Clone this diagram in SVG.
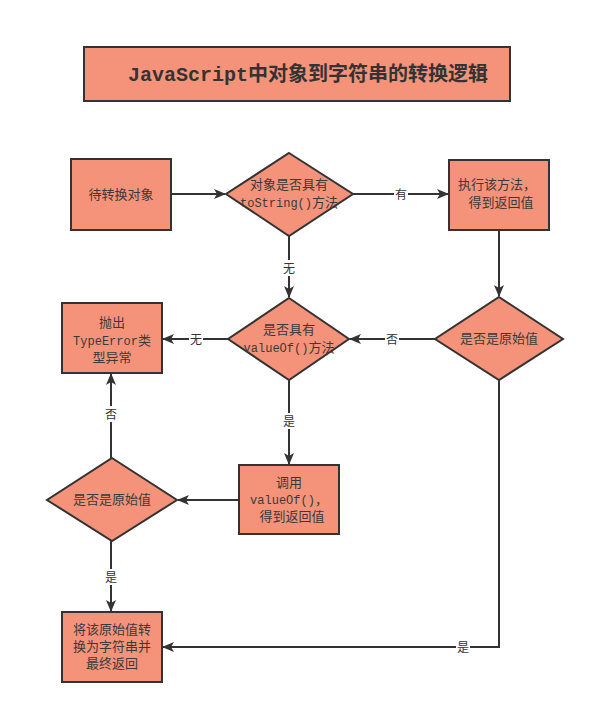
<svg xmlns="http://www.w3.org/2000/svg" width="595" height="714" viewBox="0 0 595 714">
<style>
.n{fill:#F4937A;stroke:#333;stroke-width:2}
.t{font-family:"Liberation Serif","Noto Sans CJK SC",serif;font-size:13px;fill:#3a3a3a;text-anchor:middle}
.m{font-family:"Liberation Mono","Noto Sans CJK SC",monospace;font-size:12px}
.c{stroke:#333;stroke-width:2;fill:none}
.l{font-family:"Liberation Serif","Noto Sans CJK SC",serif;font-size:12px;fill:#333;text-anchor:middle}
.lb{fill:#fff}
</style>
<defs>
<marker id="a" markerWidth="12" markerHeight="10" refX="11" refY="5" orient="auto" markerUnits="userSpaceOnUse">
<path d="M0,0 L12,5 L0,10 L3,5 Z" fill="#333"/>
</marker>
</defs>
<rect width="595" height="714" fill="#fff"/>
<g id="title">
<rect class="n" x="84" y="47" width="426" height="54"/>
<text x="308" y="81" font-family="'Liberation Mono','Noto Sans CJK SC',monospace" font-size="20" font-weight="bold" fill="#333" text-anchor="middle">JavaScript中对象到字符串的转换逻辑</text>
</g>
<g id="connectors">
<path class="c" d="M171,194 L225,194" marker-end="url(#a)"/>
<path class="c" d="M353,194 L448,194" marker-end="url(#a)"/>
<rect class="lb" x="394" y="186" width="14" height="16"/>
<text class="l" x="401" y="199">有</text>
<path class="c" d="M499,230 L499,296" marker-end="url(#a)"/>
<path class="c" d="M435,339 L350,339" marker-end="url(#a)"/>
<rect class="lb" x="385" y="331" width="14" height="16"/>
<text class="l" x="392" y="344">否</text>
<path class="c" d="M289,236 L289,297" marker-end="url(#a)"/>
<rect class="lb" x="282" y="260" width="14" height="16"/>
<text class="l" x="289" y="273">无</text>
<path class="c" d="M228,339 L163,339" marker-end="url(#a)"/>
<rect class="lb" x="189" y="331" width="14" height="16"/>
<text class="l" x="196" y="344">无</text>
<path class="c" d="M289,380 L289,464" marker-end="url(#a)"/>
<rect class="lb" x="282" y="413" width="14" height="16"/>
<text class="l" x="289" y="426">是</text>
<path class="c" d="M239,500 L178,500" marker-end="url(#a)"/>
<path class="c" d="M111,458 L111,374" marker-end="url(#a)"/>
<rect class="lb" x="104" y="406" width="14" height="16"/>
<text class="l" x="111" y="419">否</text>
<path class="c" d="M111,541 L111,611" marker-end="url(#a)"/>
<rect class="lb" x="104" y="569" width="14" height="16"/>
<text class="l" x="111" y="582">是</text>
<path class="c" d="M499,380 L499,647 L163,647" marker-end="url(#a)"/>
<rect class="lb" x="456" y="639" width="14" height="16"/>
<text class="l" x="463" y="652">是</text>
</g>
<g id="n1">
<rect class="n" x="71" y="159" width="100" height="71"/>
<text class="t" x="121" y="199">待转换对象</text>
</g>
<g id="d1">
<polygon class="n" points="289,153 353,194 289,236 226,194"/>
<text class="t" x="289" y="189">对象是否具有</text>
<text class="t" x="289" y="207"><tspan class="m">toString()</tspan>方法</text>
</g>
<g id="n2">
<rect class="n" x="449" y="160" width="100" height="70"/>
<text class="t" x="497" y="189">执行该方法，</text>
<text class="t" x="501" y="207">得到返回值</text>
</g>
<g id="d2">
<polygon class="n" points="499,297 563,339 499,380 435,339"/>
<text class="t" x="499" y="343">是否是原始值</text>
</g>
<g id="d3">
<polygon class="n" points="289,298 349,339 289,380 228,339"/>
<text class="t" x="289" y="334">是否具有</text>
<text class="t" x="289" y="352"><tspan class="m">valueOf()</tspan>方法</text>
</g>
<g id="n3">
<rect class="n" x="62" y="303" width="100" height="70"/>
<text class="t" x="112" y="327">抛出</text>
<text class="t" x="112" y="345"><tspan class="m">TypeError</tspan>类</text>
<text class="t" x="112" y="362">型异常</text>
</g>
<g id="n4">
<rect class="n" x="239" y="465" width="100" height="69"/>
<text class="t" x="289" y="487">调用</text>
<text class="t" x="289" y="504"><tspan class="m">valueOf()</tspan>，</text>
<text class="t" x="292" y="521">得到返回值</text>
</g>
<g id="d4">
<polygon class="n" points="112,458 177,500 112,541 47,500"/>
<text class="t" x="112" y="504">是否是原始值</text>
</g>
<g id="n5">
<rect class="n" x="62" y="612" width="100" height="70"/>
<text class="t" x="112" y="634">将该原始值转</text>
<text class="t" x="112" y="651">换为字符串并</text>
<text class="t" x="112" y="668">最终返回</text>
</g>
</svg>
